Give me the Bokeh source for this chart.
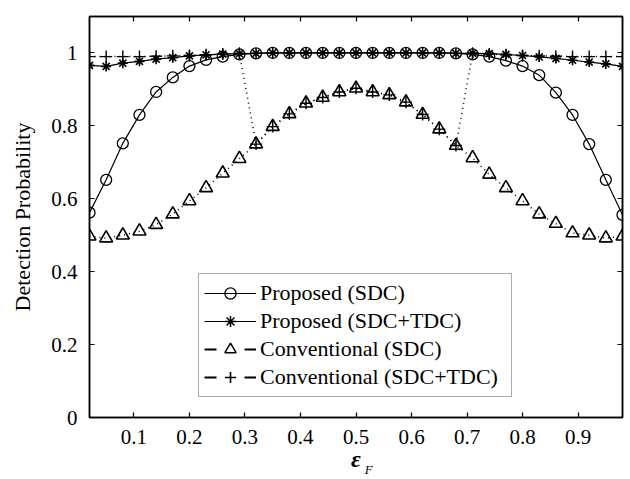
from bokeh.plotting import figure
from bokeh.models import Range1d, FixedTicker, LinearAxis, Legend, LegendItem
from bokeh.embed import file_html
from bokeh.resources import INLINE

# ---------------- data ----------------
eps_f = [0.02, 0.05, 0.08, 0.11, 0.14, 0.17, 0.20, 0.23, 0.26, 0.29, 0.32,
         0.35, 0.38, 0.41, 0.44, 0.47, 0.50, 0.53, 0.56, 0.59, 0.62, 0.65,
         0.68, 0.71, 0.74, 0.77, 0.80, 0.83, 0.86, 0.89, 0.92, 0.95, 0.98]

proposed_sdc = [0.562, 0.652, 0.752, 0.830, 0.893, 0.933, 0.964, 0.981, 0.990, 0.996, 0.999,
                1.0, 1.0, 1.0, 1.0, 1.0, 1.0, 1.0, 1.0, 1.0, 1.0, 1.0,
                0.999, 0.996, 0.990, 0.979, 0.964, 0.939, 0.891, 0.830, 0.750, 0.652, 0.556]

proposed_sdc_tdc = [0.966, 0.963, 0.972, 0.977, 0.983, 0.987, 0.992, 0.995, 0.997, 0.998, 0.999,
                    1.0, 1.0, 1.0, 1.0, 1.0, 1.0, 1.0, 1.0, 1.0, 1.0, 1.0,
                    0.999, 0.999, 0.998, 0.996, 0.993, 0.989, 0.985, 0.980, 0.975, 0.970, 0.963]

conventional_sdc = [0.497, 0.492, 0.500, 0.511, 0.529, 0.558, 0.594, 0.630, 0.670, 0.710,
                    0.750, 0.798, 0.833, 0.862, 0.878, 0.893, 0.903, 0.893, 0.885, 0.865, 0.831, 0.791, 0.746,
                    0.712, 0.667, 0.630, 0.594, 0.558, 0.532, 0.506, 0.500, 0.492, 0.497]

conventional_sdc_tdc = [0.990, 0.990, 0.990, 0.990, 0.991, 0.992, 0.993, 0.995, 0.997, 0.999,
                        0.750, 0.798, 0.833, 0.862, 0.878, 0.893, 0.903, 0.893, 0.885, 0.865, 0.831, 0.791, 0.746,
                        0.999, 0.997, 0.995, 0.993, 0.992, 0.991, 0.990, 0.990, 0.990, 0.990]

series_names = ["Proposed (SDC)", "Proposed (SDC+TDC)",
                "Conventional (SDC)", "Conventional (SDC+TDC)"]

x_ticks = [0.1, 0.2, 0.3, 0.4, 0.5, 0.6, 0.7, 0.8, 0.9]
x_tick_labels = ["0.1", "0.2", "0.3", "0.4", "0.5", "0.6", "0.7", "0.8", "0.9"]
y_ticks = [0, 0.2, 0.4, 0.6, 0.8, 1]
y_tick_labels = ["0", "0.2", "0.4", "0.6", "0.8", "1"]
y_label = "Detection Probability"
x_label_main = "ε"
x_label_sub = "F"
x_label_sub_pos = 0.523   # where the subscript sits along the x axis

# ---------------- figure ----------------
FONT = "Liberation Serif"
p = figure(width=628, height=479, x_range=Range1d(0.02, 0.98), y_range=Range1d(0, 1.1),
           output_backend="svg", toolbar_location=None,
           min_border_left=89, min_border_right=6, min_border_top=16, min_border_bottom=62)
p.grid.visible = False
p.outline_line_color = "black"
p.outline_line_width = 1.5
p.background_fill_color = "white"
p.border_fill_color = "white"


def style_axis(ax, ticks, labels, show_labels=True):
    ax.ticker = FixedTicker(ticks=ticks)
    ax.minor_tick_line_color = None
    ax.major_tick_in = 5
    ax.major_tick_out = 0
    ax.major_tick_line_width = 1.2
    ax.axis_line_width = 1.5
    ax.axis_line_color = "black"
    ax.major_tick_line_color = "black"
    ax.major_label_text_font = FONT
    ax.major_label_text_color = "black"
    if show_labels:
        ax.major_label_overrides = {t: l for t, l in zip(ticks, labels)}
        ax.major_label_text_font_size = "21px"
    else:
        ax.major_label_overrides = {t: "" for t in ticks}
        ax.major_label_text_font_size = "1px"
        ax.major_label_standoff = 0


xa = p.xaxis[0]
style_axis(xa, x_ticks, x_tick_labels)
xa.major_label_standoff = 12
xa.axis_label = x_label_main
xa.axis_label_text_font = FONT
xa.axis_label_text_font_size = "24px"
xa.axis_label_text_font_style = "bold italic"
xa.axis_label_text_color = "black"
xa.axis_label_standoff = -1

ya = p.yaxis[0]
style_axis(ya, y_ticks, y_tick_labels)
ya.major_label_standoff = 12
ya.axis_label = y_label
ya.axis_label_text_font = FONT
ya.axis_label_text_font_size = "22px"
ya.axis_label_text_font_style = "normal"
ya.axis_label_text_color = "black"
ya.axis_label_standoff = 13

top_ax = LinearAxis()
style_axis(top_ax, x_ticks, x_tick_labels, show_labels=False)
p.add_layout(top_ax, "above")
right_ax = LinearAxis()
style_axis(right_ax, y_ticks, y_tick_labels, show_labels=False)
p.add_layout(right_ax, "right")

# subscript "F" of the x label, carried by a bare second axis below
sub_ax = LinearAxis(ticker=FixedTicker(ticks=[x_label_sub_pos]),
                    major_label_overrides={x_label_sub_pos: x_label_sub})
sub_ax.axis_line_color = None
sub_ax.major_tick_line_color = None
sub_ax.minor_tick_line_color = None
sub_ax.major_tick_in = 0
sub_ax.major_tick_out = 0
sub_ax.major_label_text_font = FONT
sub_ax.major_label_text_font_size = "13px"
sub_ax.major_label_text_font_style = "italic"
sub_ax.major_label_text_color = "black"
sub_ax.major_label_standoff = -13
p.add_layout(sub_ax, "below")

# ---------------- curves ----------------
LW = 1.2
MLW = 1.3
NAN = [float("nan")]
p.line(eps_f, proposed_sdc, line_color="black", line_width=LW)
p.scatter(eps_f, proposed_sdc, marker="circle", size=11, fill_color=None,
          line_color="black", line_width=MLW)
p.line(eps_f, proposed_sdc_tdc, line_color="black", line_width=LW)
p.scatter(eps_f, proposed_sdc_tdc, marker="asterisk", size=10,
          line_color="black", line_width=1.6)
p.line(eps_f, conventional_sdc, line_color="black", line_width=1.5, line_dash="1 4")
p.scatter(eps_f, conventional_sdc, marker="triangle", size=13, fill_color=None,
          line_color="black", line_width=1.6)
p.line(eps_f, conventional_sdc_tdc, line_color="black", line_width=1.5, line_dash="1 4")
p.scatter(eps_f, conventional_sdc_tdc, marker="cross", size=12,
          line_color="black", line_width=1.4)

# ---------------- legend (sample glyphs only, no data) ----------------
lg = []
lg.append([p.line(NAN, NAN, line_color="black", line_width=LW),
           p.scatter(NAN, NAN, marker="circle", size=8, fill_color=None, line_color="black", line_width=MLW)])
lg.append([p.line(NAN, NAN, line_color="black", line_width=LW),
           p.scatter(NAN, NAN, marker="asterisk", size=8, line_color="black", line_width=1.5)])
lg.append([p.line(NAN, NAN, line_color="black", line_width=2.2, line_dash="12 28"),
           p.scatter(NAN, NAN, marker="triangle", size=9, fill_color=None, line_color="black", line_width=1.5)])
lg.append([p.line(NAN, NAN, line_color="black", line_width=2.2, line_dash="12 28"),
           p.scatter(NAN, NAN, marker="cross", size=9, line_color="black", line_width=1.6)])

legend = Legend(items=[LegendItem(label=n, renderers=r) for n, r in zip(series_names, lg)],
                location=(109, 20))
legend.label_text_font = FONT
legend.label_text_font_size = "22px"
legend.label_text_color = "black"
legend.glyph_width = 52
legend.glyph_height = 28
legend.label_height = 28
legend.label_width = 246
legend.label_standoff = 4
legend.spacing = 0
legend.padding = 5
legend.margin = 0
legend.border_line_color = "#555555"
legend.border_line_width = 1.2
legend.background_fill_color = "white"
legend.background_fill_alpha = 1.0
p.add_layout(legend, "center")

open("out.html", "w").write(file_html(p, INLINE))
